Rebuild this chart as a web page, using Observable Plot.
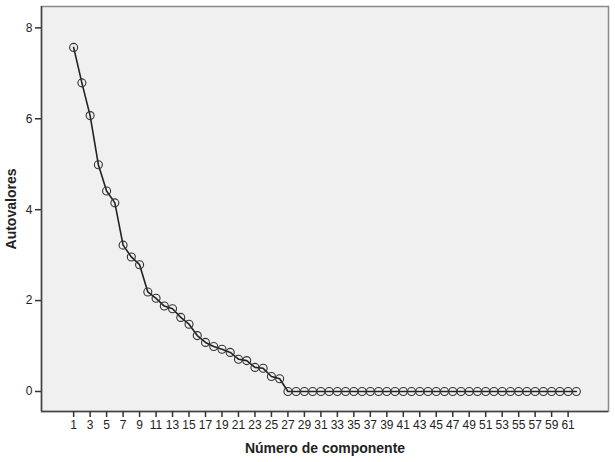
<!DOCTYPE html>
<html>
<head>
<meta charset="utf-8">
<script src="https://cdn.jsdelivr.net/npm/d3@7"></script>
<script src="https://cdn.jsdelivr.net/npm/@observablehq/plot@0.6"></script>
<style>
  html, body { margin: 0; padding: 0; background: #fff; }
  svg { display: block; }
</style>
</head>
<body>
<div id="chart"></div>
<script>
// Scree plot: eigenvalues by component number
const components = d3.range(1, 63);
const eigenvalues = [
  7.57, 6.79, 6.07, 4.99, 4.41, 4.15, 3.22, 2.96, 2.79, 2.19,
  2.05, 1.88, 1.82, 1.63, 1.48, 1.23, 1.08, 0.99, 0.93, 0.86,
  0.71, 0.68, 0.53, 0.51, 0.33, 0.28, 0.00, 0.00, 0.00, 0.00,
  0.00, 0.00, 0.00, 0.00, 0.00, 0.00, 0.00, 0.00, 0.00, 0.00,
  0.00, 0.00, 0.00, 0.00, 0.00, 0.00, 0.00, 0.00, 0.00, 0.00,
  0.00, 0.00, 0.00, 0.00, 0.00, 0.00, 0.00, 0.00, 0.00, 0.00,
  0.00, 0.00
];
const xTicks = d3.range(1, 62, 2);
const yTicks = [0, 2, 4, 6, 8];
const xTitle = "Número de componente";
const yTitle = "Autovalores";

const data = components.map((c, i) => ({component: c, value: eigenvalues[i]}));

const xDomain = [-2.9, 65.9];
const yDomain = [-0.44, 8.47];

const chart = Plot.plot({
  width: 615,
  height: 462,
  marginLeft: 41,
  marginRight: 7,
  marginTop: 6,
  marginBottom: 51,
  style: {fontFamily: "'Liberation Sans', Arial, sans-serif", fontSize: "12px", color: "#222", background: "#fff"},
  x: {domain: xDomain},
  y: {domain: yDomain},
  marks: [
    Plot.frame({fill: "#f0f0f0", stroke: "#8a8a8a", strokeWidth: 1.5}),
    Plot.ruleX([xDomain[0]], {stroke: "#444", strokeWidth: 1.5}),
    Plot.ruleY([yDomain[0]], {stroke: "#444", strokeWidth: 1.5}),
    Plot.axisX({ticks: xTicks, tickSize: 6, tickPadding: 3, tickFormat: d => String(d), label: null, stroke: "#333", fill: "#222", strokeWidth: 1.5}),
    Plot.axisY({ticks: yTicks, tickSize: 6, tickPadding: 3, tickFormat: d => String(d), label: null, stroke: "#333", fill: "#222", strokeWidth: 1.5}),
    Plot.line(data, {x: "component", y: "value", stroke: "#222", strokeWidth: 1.6}),
    Plot.dot(data, {x: "component", y: "value", r: 4, stroke: "#333", strokeWidth: 1.1, fill: "none"}),
    Plot.text([xTitle], {frameAnchor: "bottom", dy: 41, fontSize: 14, fontWeight: "bold", fill: "#222"}),
    Plot.text([yTitle], {frameAnchor: "left", textAnchor: "middle", dx: -30, rotate: -90, fontSize: 14, fontWeight: "bold", fill: "#222"})
  ]
});
document.getElementById("chart").appendChild(chart);
</script>
</body>
</html>
